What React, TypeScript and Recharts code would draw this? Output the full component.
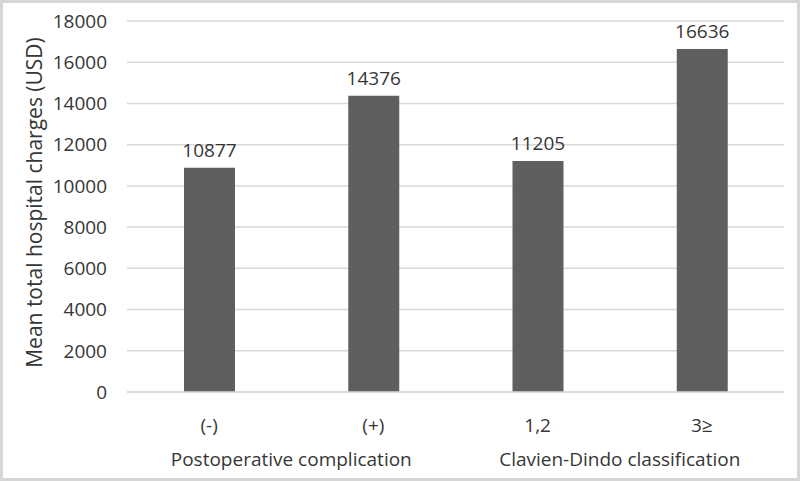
import { BarChart, Bar, XAxis, YAxis, CartesianGrid, LabelList } from 'recharts';

const categories = ['(-)', '(+)', '1,2', '3≥'];
const groups = ['Postoperative complication', 'Postoperative complication', 'Clavien-Dindo classification', 'Clavien-Dindo classification'];
const charges = [10877, 14376, 11205, 16636];
const yTicks = [0, 2000, 4000, 6000, 8000, 10000, 12000, 14000, 16000, 18000];

const data = categories.map((cat, i) => ({ cat, group: groups[i], value: charges[i] }));

const FONT = '"Open Sans", sans-serif';
const TEXT = '#363636';
const W = 800;
const H = 481;
const MARGIN = { top: 21, right: 16, bottom: 0, left: 0 };
const X_HEIGHT = 89;
const Y_WIDTH = 127;
const band = (W - MARGIN.right - Y_WIDTH) / categories.length;

// category label + group label (group label drawn once, centred between its two bars)
const CatTick = (props: any) => {
  const { x, y, payload } = props;
  const i = payload.index;
  return (
    <g>
      <text x={x} y={y + 38} textAnchor="middle" fontFamily={FONT} fontSize={19} fill={TEXT}>
        {payload.value}
      </text>
      {i % 2 === 0 && (
        <text x={x + band / 2} y={y + 72} textAnchor="middle" fontFamily={FONT} fontSize={19} fill={TEXT}>
          {groups[i]}
        </text>
      )}
    </g>
  );
};

export default function App() {
  return (
    <div style={{ position: 'absolute', left: 0, top: 0, width: W, height: H, background: '#fff' }}>
      <BarChart width={W} height={H} data={data} margin={MARGIN}>
        <CartesianGrid vertical={false} stroke="#d9d9d9" strokeWidth={1.5} />
        <XAxis
          dataKey="cat"
          axisLine={{ stroke: '#d9d9d9', strokeWidth: 1.5 }}
          tickLine={false}
          tickSize={0}
          tick={<CatTick />}
          interval={0}
          height={X_HEIGHT}
        />
        <YAxis
          domain={[0, 18000]}
          ticks={yTicks}
          width={Y_WIDTH}
          axisLine={false}
          tickLine={false}
          tickSize={0}
          tickMargin={20}
          tick={{ fontFamily: FONT, fontSize: 19, fill: TEXT }}
          label={{
            value: 'Mean total hospital charges (USD)',
            angle: -90,
            position: 'insideLeft',
            offset: 35,
            dy: -4,
            style: { fontFamily: FONT, fontSize: 21, fill: TEXT, textAnchor: 'middle' },
          }}
        />
        <Bar dataKey="value" fill="#5f5f5f" barSize={51} isAnimationActive={false}>
          <LabelList dataKey="value" position="top" offset={11} style={{ fontFamily: FONT, fontSize: 19, fill: TEXT }} />
        </Bar>
      </BarChart>
      <div
        style={{
          position: 'absolute',
          left: 0,
          top: 0,
          width: W,
          height: H,
          boxSizing: 'border-box',
          border: '3px solid #d6d6d6',
          pointerEvents: 'none',
        }}
      />
    </div>
  );
}
